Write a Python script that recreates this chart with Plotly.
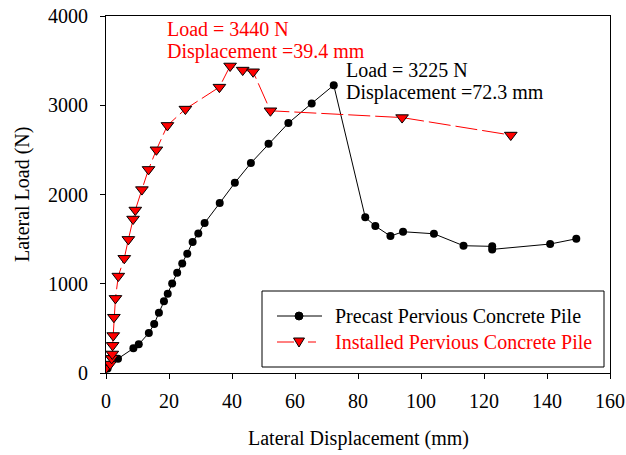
import plotly.graph_objects as go

# Precast pervious concrete pile: lateral displacement (mm) vs lateral load (N)
precast_disp = [0.5, 3.8, 8.7, 10.4, 13.6, 15.3, 16.8, 18.4, 19.6, 21.0, 22.6, 24.2,
                25.8, 27.5, 29.3, 31.3, 36.1, 40.9, 46.0, 51.6, 57.9, 65.3, 72.3,
                82.3, 85.5, 90.3, 94.3, 104.1, 113.5, 122.6, 122.6, 141.0, 149.3]
precast_load = [50, 160, 276, 321, 448, 549, 676, 803, 888, 1004, 1124, 1228,
                1337, 1467, 1564, 1680, 1904, 2131, 2352, 2568, 2800, 3021, 3225,
                1744, 1646, 1534, 1583, 1560, 1426, 1419, 1385, 1445, 1504]

# Installed pervious concrete pile
installed_disp = [0.0, 1.3, 1.8, 2.0, 2.1, 2.3, 2.5, 3.0, 3.9, 5.8, 7.1, 8.6, 9.3,
                  11.4, 13.5, 16.0, 19.5, 25.2, 36.0, 39.4, 43.4, 46.7, 52.2,
                  94.0, 128.5]
installed_load = [55, 100, 164, 213, 310, 420, 625, 836, 1086, 1285, 1497, 1725, 1826,
                  2055, 2281, 2501, 2774, 2957, 3203, 3440, 3394, 3375, 2938,
                  2862, 2666]

series_names = ["Precast Pervious Concrete Pile", "Installed Pervious Concrete Pile"]
x_ticks = [0, 20, 40, 60, 80, 100, 120, 140, 160]
y_ticks = [0, 1000, 2000, 3000, 4000]

FONT = "Liberation Serif"
RED = "#ff0000"
W, H = 626, 455
ML, MR, MT, MB = 106, 16, 16, 82
PW, PH = W - ML - MR, H - MT - MB


def px(x):
    """Page pixel column -> paper coordinate."""
    return (x - ML) / PW


def py(y):
    """Page pixel row -> paper coordinate."""
    return (H - MB - y) / PH


fig = go.Figure()

fig.add_trace(go.Scatter(
    x=precast_disp, y=precast_load, mode="lines+markers", name=series_names[0],
    line=dict(color="black", width=1),
    marker=dict(symbol="circle", size=8, color="black"),
))

fig.add_trace(go.Scatter(
    x=installed_disp, y=installed_load, mode="lines+markers", name=series_names[1],
    line=dict(color=RED, width=1, dash="22px,5px"),
    marker=dict(symbol="triangle-down", size=11, color=RED,
                line=dict(color="black", width=1)),
))

# Peak-load callouts for both piles
ipk = installed_load.index(max(installed_load))
ppk = precast_load.index(max(precast_load))
callouts = [
    (165, 29, f"Load = {installed_load[ipk]} N", RED),
    (165, 52, f"Displacement ={installed_disp[ipk]} mm", RED),
    (344, 70, f"Load = {precast_load[ppk]} N", "black"),
    (344, 92, f"Displacement ={precast_disp[ppk]} mm", "black"),
]
for cx, cy, txt, col in callouts:
    fig.add_annotation(
        x=px(cx), y=py(cy), xref="paper", yref="paper", xanchor="left", yanchor="middle",
        text=txt, showarrow=False, font=dict(family=FONT, size=20, color=col),
    )

# Axis titles
fig.add_annotation(
    x=px(358), y=py(438), xref="paper", yref="paper", xanchor="center", yanchor="middle",
    text="Lateral Displacement (mm)", showarrow=False,
    font=dict(family=FONT, size=20, color="black"),
)
fig.add_annotation(
    x=px(22), y=py(195), xref="paper", yref="paper", xanchor="center", yanchor="middle",
    text="Lateral Load (N)", textangle=-90, showarrow=False,
    font=dict(family=FONT, size=20, color="black"),
)

# Boxed legend
lg_l, lg_r, lg_t, lg_b = 262, 604, 291, 367
rows = [316, 342]
fig.add_shape(type="rect", xref="paper", yref="paper",
              x0=px(lg_l), x1=px(lg_r), y0=py(lg_b), y1=py(lg_t),
              line=dict(color="black", width=1), fillcolor="white", layer="above")
fig.add_shape(type="line", xref="paper", yref="paper",
              x0=px(277), x1=px(322), y0=py(rows[0]), y1=py(rows[0]),
              line=dict(color="black", width=1), layer="above")
fig.add_shape(type="line", xref="paper", yref="paper",
              x0=px(277), x1=px(322), y0=py(rows[1]), y1=py(rows[1]),
              line=dict(color=RED, width=1, dash="17px,14px,8px,60px"), layer="above")
fig.add_shape(type="circle", xref="paper", yref="paper",
              x0=px(295), x1=px(303), y0=py(rows[0] + 4), y1=py(rows[0] - 4),
              line=dict(color="black", width=1), fillcolor="black", layer="above")
tri = (f"M {px(293.5)} {py(rows[1] - 4)} L {px(304.5)} {py(rows[1] - 4)} "
       f"L {px(299)} {py(rows[1] + 5)} Z")
fig.add_shape(type="path", xref="paper", yref="paper", path=tri,
              line=dict(color="black", width=1), fillcolor=RED, layer="above")
for ry, name, col in zip(rows, series_names, ["black", RED]):
    fig.add_annotation(
        x=px(333), y=py(ry), xref="paper", yref="paper", xanchor="left", yanchor="middle",
        text=name, showarrow=False, font=dict(family=FONT, size=20, color=col),
    )

axis_common = dict(
    showline=True, linecolor="black", linewidth=1, mirror=True,
    ticks="outside", ticklen=5, tickcolor="black", tickwidth=1,
    showgrid=False, zeroline=False, automargin=False,
    tickfont=dict(family=FONT, size=20, color="black"),
)

fig.update_xaxes(range=[0, 160], tickvals=x_ticks, ticklabelstandoff=5, **axis_common)
fig.update_yaxes(range=[0, 4000], tickvals=y_ticks, ticklabelstandoff=8, **axis_common)

fig.update_layout(
    width=W, height=H,
    margin=dict(l=ML, r=MR, t=MT, b=MB),
    paper_bgcolor="white", plot_bgcolor="white",
    font=dict(family=FONT, size=20, color="black"),
    showlegend=False,
)

fig.write_html("out.html")
